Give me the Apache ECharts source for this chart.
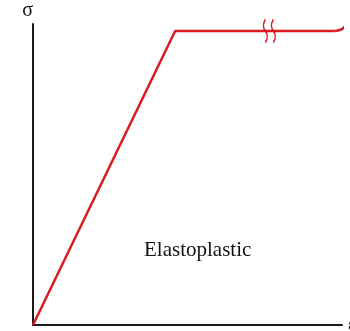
<!DOCTYPE html>
<html>
<head>
<meta charset="utf-8">
<script src="https://cdn.jsdelivr.net/npm/echarts@6/dist/echarts.min.js"></script>
<style>
  html, body { margin: 0; padding: 0; background: #fff; }
  #chart { width: 350px; height: 331px; }
</style>
</head>
<body>
<div id="chart"></div>
<script>
// strain / stress points of the elastoplastic curve (arbitrary units)
const elasticStrain = [0, 46]
const elasticStress = [0, 97.7]
const plasticStrain = [46, 97.5]
const plasticStress = [97.7, 97.7]
const curlStrain = [97.5, 99.8, 101.2, 101.9]
const curlStress = [97.7, 98.2, 99.6, 101.8]
const breakPoint = [76.5, 97.7]

const red = '#dc1a22'
const zip = (xs, ys) => xs.map((x, i) => [x, ys[i]])

const chart = echarts.init(document.getElementById('chart'))
chart.setOption({
  animation: false,
  grid: { left: 33, right: 8, top: 24, bottom: 6, outerBoundsMode: 'none', containLabel: false },
  xAxis: {
    type: 'value',
    min: 0,
    max: 100,
    name: 'ε',
    nameGap: 6,
    nameTextStyle: { fontFamily: 'Liberation Serif', fontSize: 18, color: '#111' },
    axisLine: { lineStyle: { color: '#1a1a1a', width: 2 } },
    axisTick: { show: false },
    axisLabel: { show: false },
    splitLine: { show: false }
  },
  yAxis: {
    type: 'value',
    min: 0,
    max: 100,
    name: 'σ',
    nameGap: 3,
    nameTextStyle: { fontFamily: 'Liberation Serif', fontSize: 20, color: '#111', align: 'right' },
    axisLine: { show: true, lineStyle: { color: '#1a1a1a', width: 2 } },
    axisTick: { show: false },
    axisLabel: { show: false },
    splitLine: { show: false }
  },
  graphic: [{
    type: 'text',
    left: 144,
    top: 240,
    style: { text: 'Elastoplastic', font: '21px "Liberation Serif"', fill: '#111' }
  }],
  series: [
    {
      type: 'line',
      data: zip(elasticStrain, elasticStress).concat(zip(plasticStrain, plasticStress).slice(1)),
      showSymbol: false,
      clip: false,
      lineStyle: { color: red, width: 2.5 },
      markPoint: {
        symbol: 'path://M3,0 Q0,6 3,11 Q6,16 3,22 M9,0 Q6,6 9,11 Q12,16 9,22',
        symbolSize: [12, 23],
        itemStyle: { color: 'transparent', borderColor: red, borderWidth: 1.8 },
        label: { show: false },
        data: [{ coord: breakPoint }]
      }
    },
    {
      type: 'line',
      data: zip(curlStrain, curlStress),
      smooth: true,
      showSymbol: false,
      clip: false,
      lineStyle: { color: red, width: 2.5 }
    }
  ]
})
</script>
</body>
</html>
